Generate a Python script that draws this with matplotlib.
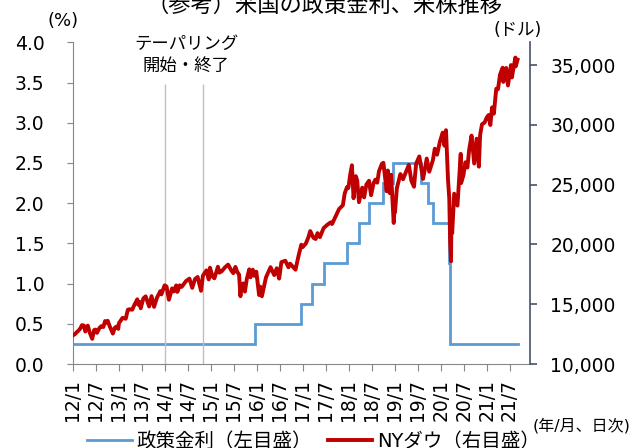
import matplotlib
matplotlib.use("Agg")
import matplotlib.pyplot as plt
import matplotlib.dates as mdates
import numpy as np
import pandas as pd

plt.rcParams['font.family'] = ['DejaVu Sans', 'Noto Sans CJK JP']

# ---------------- data ----------------
title = "（参考）米国の政策金利、米株推移"

rate_dates = ["2012-01-01", "2015-12-17", "2016-12-15", "2017-03-16", "2017-06-15",
              "2017-12-14", "2018-03-22", "2018-06-14", "2018-09-27", "2018-12-20",
              "2019-08-01", "2019-09-19", "2019-10-31", "2020-03-04", "2020-03-16",
              "2021-09-02"]
rate_values = [0.25, 0.50, 0.75, 1.00, 1.25, 1.50, 1.75, 2.00, 2.25, 2.50,
               2.25, 2.00, 1.75, 1.25, 0.25, 0.25]

dow_dates = [
    "2012-01-03", "2012-01-17", "2012-01-31", "2012-02-15", "2012-02-29", "2012-03-15",
    "2012-03-30", "2012-04-10", "2012-04-30", "2012-05-15", "2012-06-04", "2012-06-19",
    "2012-06-29", "2012-07-12", "2012-07-31", "2012-08-15", "2012-08-31", "2012-09-14",
    "2012-09-28", "2012-10-05", "2012-10-23", "2012-11-15", "2012-11-30", "2012-12-14",
    "2012-12-28",
    "2013-01-02", "2013-01-31", "2013-02-25", "2013-03-14", "2013-03-28", "2013-04-18",
    "2013-04-30", "2013-05-28", "2013-06-05", "2013-06-17", "2013-06-24", "2013-07-15",
    "2013-08-02", "2013-08-30", "2013-09-18", "2013-10-08", "2013-10-31", "2013-11-27",
    "2013-12-05", "2013-12-31",
    "2014-01-15", "2014-02-03", "2014-02-28", "2014-03-14", "2014-04-02", "2014-04-11",
    "2014-04-30", "2014-05-15", "2014-06-20", "2014-07-16", "2014-08-07", "2014-08-29",
    "2014-09-19", "2014-10-16", "2014-10-31", "2014-11-28", "2014-12-16", "2014-12-26",
    "2015-01-15", "2015-01-30", "2015-02-27", "2015-03-11", "2015-03-31", "2015-04-24",
    "2015-05-19", "2015-06-15", "2015-06-29", "2015-07-16", "2015-07-31", "2015-08-14",
    "2015-08-25", "2015-08-31", "2015-09-16", "2015-09-29", "2015-10-15", "2015-11-03",
    "2015-11-13", "2015-12-01", "2015-12-14", "2015-12-29",
    "2016-01-20", "2016-01-29", "2016-02-11", "2016-02-29", "2016-03-15", "2016-04-20",
    "2016-05-19", "2016-06-08", "2016-06-27", "2016-07-15", "2016-08-15", "2016-09-09",
    "2016-09-22", "2016-11-04", "2016-11-30", "2016-12-20", "2016-12-30",
    "2017-01-25", "2017-02-15", "2017-03-01", "2017-03-27", "2017-04-13", "2017-04-28",
    "2017-05-17", "2017-06-15", "2017-07-14", "2017-08-10", "2017-08-21", "2017-09-15",
    "2017-10-16", "2017-11-15", "2017-11-30", "2017-12-18", "2017-12-29",
    "2018-01-12", "2018-01-26", "2018-02-08", "2018-02-26", "2018-03-09", "2018-03-23",
    "2018-04-18", "2018-05-03", "2018-05-21", "2018-06-11", "2018-06-27", "2018-07-17",
    "2018-07-31", "2018-08-15", "2018-08-29", "2018-09-21", "2018-10-03", "2018-10-29",
    "2018-11-07", "2018-11-23", "2018-12-03", "2018-12-24", "2018-12-31",
    "2019-01-03", "2019-01-18", "2019-02-15", "2019-03-08", "2019-04-23", "2019-05-13",
    "2019-06-03", "2019-06-20", "2019-07-15", "2019-08-14", "2019-08-30", "2019-09-12",
    "2019-10-02", "2019-10-31", "2019-11-15", "2019-12-03", "2019-12-27",
    "2020-01-17", "2020-01-31", "2020-02-12", "2020-02-28", "2020-03-09", "2020-03-16",
    "2020-03-23", "2020-03-26", "2020-04-01", "2020-04-17", "2020-05-13", "2020-06-08",
    "2020-06-11", "2020-06-30", "2020-07-15", "2020-07-31", "2020-08-14", "2020-09-02",
    "2020-09-23", "2020-10-12", "2020-10-30", "2020-11-09", "2020-11-24", "2020-12-15",
    "2020-12-31",
    "2021-01-15", "2021-01-29", "2021-02-12", "2021-02-26", "2021-03-17", "2021-03-31",
    "2021-04-16", "2021-05-07", "2021-05-12", "2021-05-28", "2021-06-04", "2021-06-18",
    "2021-07-12", "2021-07-19", "2021-08-16", "2021-08-19", "2021-09-02",
]
dow_values = [
    12397, 12482, 12633, 12781, 12952, 13253,
    13212, 12716, 13214, 12632, 12101, 12837,
    12880, 12605, 13009, 13164, 13091, 13593,
    13437, 13610, 13102, 12542, 13026, 13135,
    12938,
    13412, 13861, 13784, 14539, 14579, 14537,
    14840, 15409, 14960, 15179, 14660, 15484,
    15658, 14810, 15676, 14776, 15546, 16097,
    15821, 16577,
    16482, 15373, 16322, 16065, 16573, 16027,
    16581, 16447, 16947, 17138, 16368, 17098,
    17280, 16117, 17391, 17828, 17068, 18053,
    17320, 17165, 18133, 17635, 17776, 18080,
    18312, 17791, 17597, 18120, 17690, 17477,
    15666, 16528, 16740, 16049, 17141, 17918,
    17245, 17888, 17368, 17720,
    15766, 16466, 15660, 16517, 17251, 18096,
    17435, 18005, 17140, 18517, 18636, 18085,
    18392, 17888, 19124, 19975, 19763,
    20069, 20612, 21115, 20550, 20453, 20941,
    20607, 21360, 21638, 21844, 21703, 22268,
    22957, 23272, 24272, 24792, 24719,
    25803, 26617, 23860, 25709, 25336, 23533,
    24748, 23930, 25013, 25322, 24117, 25120,
    25415, 25162, 26124, 26743, 26828, 24443,
    26180, 24286, 25826, 21792, 23327,
    22686, 24706, 25883, 25450, 26656, 25324,
    24820, 26753, 27359, 25479, 26403, 27182,
    26079, 27046, 28005, 27503, 28645,
    29348, 28256, 29551, 25409, 23851, 20189,
    18592, 22552, 20943, 24242, 23248, 27572,
    25128, 25813, 26870, 26428, 27931, 29100,
    26763, 28838, 26502, 29158, 30046, 30199,
    30606,
    30814, 29983, 31458, 30932, 33015, 32982,
    34200, 34778, 33587, 34529, 34756, 33290,
    34996, 33962, 35625, 34894, 35443,
]

taper_dates = ["2014-01-01", "2014-10-29"]

tick_dates = pd.date_range("2012-01-01", "2021-07-01", freq="6MS")
tick_labels = ["12/1", "12/7", "13/1", "13/7", "14/1", "14/7", "15/1", "15/7", "16/1", "16/7",
               "17/1", "17/7", "18/1", "18/7", "19/1", "19/7", "20/1", "20/7", "21/1", "21/7"]

left_ticks = [0.0, 0.5, 1.0, 1.5, 2.0, 2.5, 3.0, 3.5, 4.0]
right_ticks = [10000, 15000, 20000, 25000, 30000, 35000]

# ---------------- figure ----------------
W, H = 641, 448
fig = plt.figure(figsize=(W / 100, H / 100), dpi=100)
x0, x1, ytop, ybot = 72.7, 530.0, 42.3, 364.0
ax = fig.add_axes([x0 / W, (H - ybot) / H, (x1 - x0) / W, (ybot - ytop) / H])
ax2 = ax.twinx()

blue = "#5B9BD5"
red = "#C00000"
gray = "#868686"
slate = "#44546A"

ax.plot(pd.to_datetime(rate_dates), rate_values, color=blue, lw=2.0,
        drawstyle="steps-post", label="政策金利（左目盛）", solid_joinstyle="miter")
ax2.plot(pd.to_datetime(dow_dates), dow_values, color=red, lw=2.8,
         label="NYダウ（右目盛）", solid_joinstyle="round")

ax.vlines(pd.to_datetime(taper_dates), 0, 3.48, color="#BFBFBF", lw=1.0)

ax.set_xlim(pd.Timestamp("2012-01-01"), pd.Timestamp("2021-12-10"))
ax.set_ylim(0, 4.0)
ax2.set_ylim(10000, 36900)

ax.set_xticks(tick_dates)
ax.set_xticklabels(tick_labels, rotation=90, fontsize=13.5)
ax.set_yticks(left_ticks)
ax.set_yticklabels([f"{v:.1f}" for v in left_ticks], fontsize=13.5)
ax2.set_yticks(right_ticks)
ax2.set_yticklabels([f"{v:,}" for v in right_ticks], fontsize=13.5)

for s in ["top", "right"]:
    ax.spines[s].set_visible(False)
for s in ["top", "left", "bottom"]:
    ax2.spines[s].set_visible(False)
ax.spines["left"].set_color(gray)
ax.spines["bottom"].set_color(gray)
ax2.spines["right"].set_color(slate)
ax2.spines["right"].set_linewidth(1.2)

ax.tick_params(axis="y", direction="out", length=4.3, color=gray, pad=16, labelcolor="#000000")
ax.tick_params(axis="x", direction="out", length=4.8, color=gray, pad=6)
ax2.tick_params(axis="y", direction="out", length=5, color=slate, width=1.2, pad=9.5)

# texts
fig.text(325 / W, 1 - 11.5 / H, title, ha="center", va="baseline", fontsize=16)
fig.text(63.5 / W, 1 - 21 / H, "(%)", ha="center", va="center", fontsize=13)
fig.text(518 / W, 1 - 30 / H, "(ドル)", ha="center", va="center", fontsize=12.5)
fig.text(582 / W, 1 - 426 / H, "(年/月、日次)", ha="center", va="center", fontsize=11.5)
fig.text(186 / W, 1 - 43.5 / H, "テーパリング", ha="center", va="center", fontsize=12.5)
fig.text(186 / W, 1 - 65.5 / H, "開始・終了", ha="center", va="center", fontsize=12.5)

h1, l1 = ax.get_legend_handles_labels()
h2, l2 = ax2.get_legend_handles_labels()
fig.legend(h1 + h2, l1 + l2, loc="center left", bbox_to_anchor=(87 / W, 7 / H),
           ncol=2, frameon=False, fontsize=14, handlelength=2.3, handletextpad=0.25,
           columnspacing=0.8, borderpad=0, borderaxespad=0)

fig.savefig("out.png", dpi=100)
